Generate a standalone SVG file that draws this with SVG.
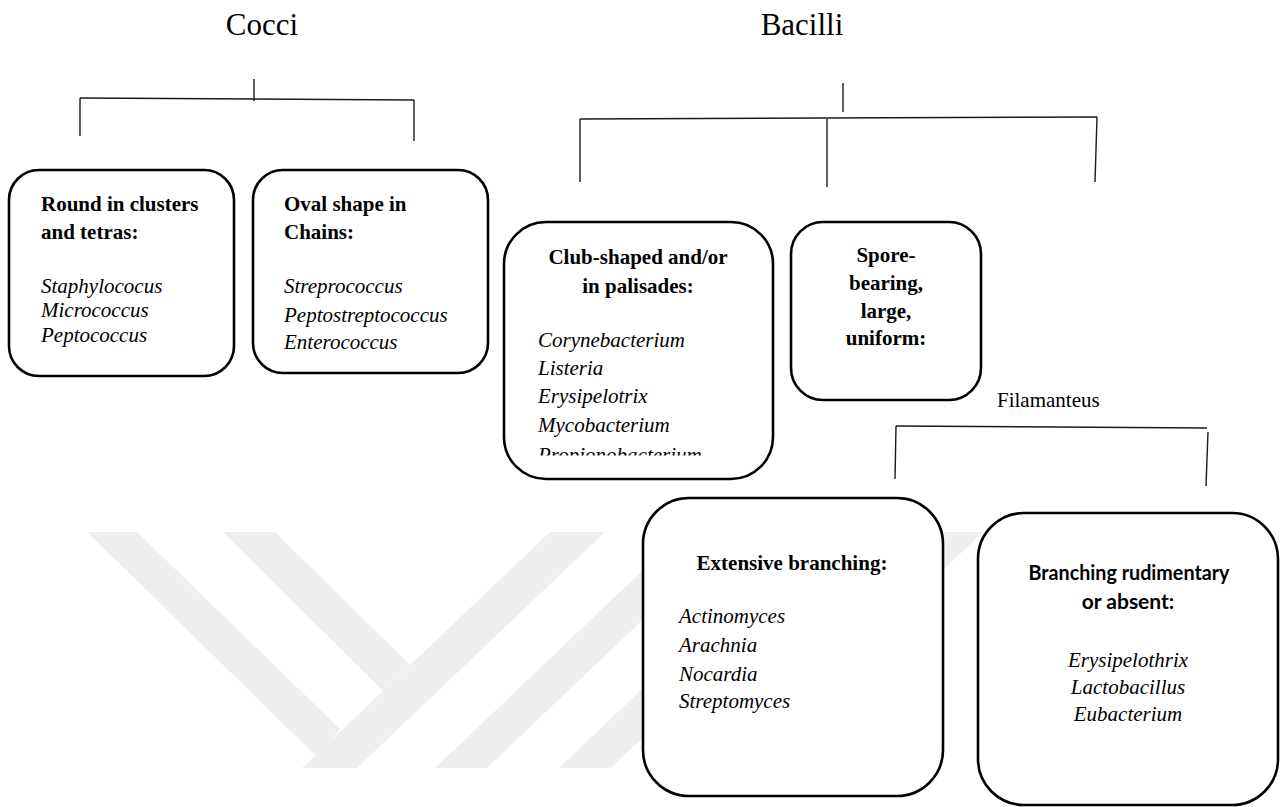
<svg xmlns="http://www.w3.org/2000/svg" width="1282" height="807" viewBox="0 0 1282 807">
<style>
.title{font-family:"Liberation Serif","Times New Roman",serif;font-size:31px;fill:#000}
.lbl{font-family:"Liberation Serif","Times New Roman",serif;font-size:21px;fill:#000}
.hd{font-family:"Liberation Serif","Times New Roman",serif;font-size:21px;font-weight:bold;fill:#000}
.hds{font-family:Lato,"Open Sans","Liberation Sans",sans-serif;font-size:21px;font-weight:bold;fill:#000}
.it{font-family:"Liberation Serif","Times New Roman",serif;font-size:21px;font-style:italic;fill:#000}
.box{fill:#fff;stroke:#000;stroke-width:2.6}
.conn line{stroke:#1a1a1a;stroke-width:1.4;fill:none}
.wm{fill:#efefef;stroke:none}
</style>
<defs>
<clipPath id="wmclip"><rect x="0" y="532" width="1282" height="236"/></clipPath>
<clipPath id="clubclip"><rect x="504" y="222" width="269" height="233.5"/></clipPath>
</defs>
<rect x="0" y="0" width="1282" height="807" fill="#fff"/>
<g id="watermark" clip-path="url(#wmclip)">
<polygon class="wm" points="87,532 137,532 340,729 317,757"/>
<polygon class="wm" points="223,532 275,532 410,665 383,691"/>
<polygon class="wm" points="302,768 550,532 605,532 357,768"/>
<polygon class="wm" points="435,768 683,532 735,532 487,768"/>
<polygon class="wm" points="559,768 807,532 859,532 611,768"/>
<polygon class="wm" points="683,768 931,532 983,532 735,768"/>
</g>
<g id="cocci">
<text class="title" x="262" y="35" text-anchor="middle">Cocci</text>
</g>
<g id="bacilli">
<text class="title" x="802" y="35" text-anchor="middle">Bacilli</text>
</g>
<g id="filamanteus">
<text class="lbl" x="997" y="407">Filamanteus</text>
</g>
<g id="connectors" class="conn">
<line x1="254" y1="79" x2="254" y2="101"/>
<line x1="80" y1="98" x2="414" y2="100"/>
<line x1="80" y1="98" x2="80" y2="136"/>
<line x1="414" y1="100" x2="414" y2="141"/>
<line x1="843" y1="83" x2="843" y2="112"/>
<line x1="580" y1="119" x2="1097" y2="117"/>
<line x1="580" y1="119" x2="580" y2="182"/>
<line x1="827" y1="119" x2="827" y2="187"/>
<line x1="1097" y1="117" x2="1095" y2="182"/>
<line x1="896" y1="426" x2="1207" y2="428"/>
<line x1="896" y1="426" x2="895" y2="479"/>
<line x1="1208" y1="432" x2="1206" y2="486"/>
</g>
<g id="round-clusters">
<rect class="box" x="9" y="170" width="225" height="206" rx="30"/>
<text class="hd" x="41" y="211">Round in clusters</text>
<text class="hd" x="41" y="239">and tetras:</text>
<text class="it" x="41" y="293">Staphylococus</text>
<text class="it" x="41" y="317">Micrococcus</text>
<text class="it" x="41" y="342">Peptococcus</text>
</g>
<g id="oval-chains">
<rect class="box" x="253" y="170" width="235" height="203" rx="30"/>
<text class="hd" x="284" y="211">Oval shape in</text>
<text class="hd" x="284" y="239">Chains:</text>
<text class="it" x="284" y="293">Streprococcus</text>
<text class="it" x="284" y="322">Peptostreptococcus</text>
<text class="it" x="284" y="349">Enterococcus</text>
</g>
<g id="club-shaped">
<rect class="box" x="504" y="222" width="269" height="257" rx="42"/>
<text class="hd" x="638" y="264" text-anchor="middle">Club-shaped and/or</text>
<text class="hd" x="638" y="293" text-anchor="middle">in palisades:</text>
<text class="it" x="538" y="347">Corynebacterium</text>
<text class="it" x="538" y="375">Listeria</text>
<text class="it" x="538" y="403">Erysipelotrix</text>
<text class="it" x="538" y="432">Mycobacterium</text>
<text class="it" x="538" y="462" clip-path="url(#clubclip)">Propionobacterium</text>
</g>
<g id="spore-bearing">
<rect class="box" x="791" y="222" width="190" height="178" rx="32"/>
<text class="hd" x="886" y="262" text-anchor="middle">Spore-</text>
<text class="hd" x="886" y="290" text-anchor="middle">bearing,</text>
<text class="hd" x="886" y="318" text-anchor="middle">large,</text>
<text class="hd" x="886" y="345" text-anchor="middle">uniform:</text>
</g>
<g id="extensive-branching">
<rect class="box" x="643" y="498" width="300" height="298" rx="46"/>
<text class="hd" x="792" y="570" text-anchor="middle">Extensive branching:</text>
<text class="it" x="679" y="623">Actinomyces</text>
<text class="it" x="679" y="652">Arachnia</text>
<text class="it" x="679" y="681">Nocardia</text>
<text class="it" x="679" y="708">Streptomyces</text>
</g>
<g id="branching-rudimentary">
<rect class="box" x="978" y="513" width="300" height="292" rx="46"/>
<text class="hds" x="1129" y="580" text-anchor="middle" textLength="201" lengthAdjust="spacingAndGlyphs">Branching rudimentary</text>
<text class="hds" x="1128" y="609" text-anchor="middle">or absent:</text>
<text class="it" x="1128" y="667" text-anchor="middle">Erysipelothrix</text>
<text class="it" x="1128" y="694" text-anchor="middle">Lactobacillus</text>
<text class="it" x="1128" y="721" text-anchor="middle">Eubacterium</text>
</g>
</svg>
